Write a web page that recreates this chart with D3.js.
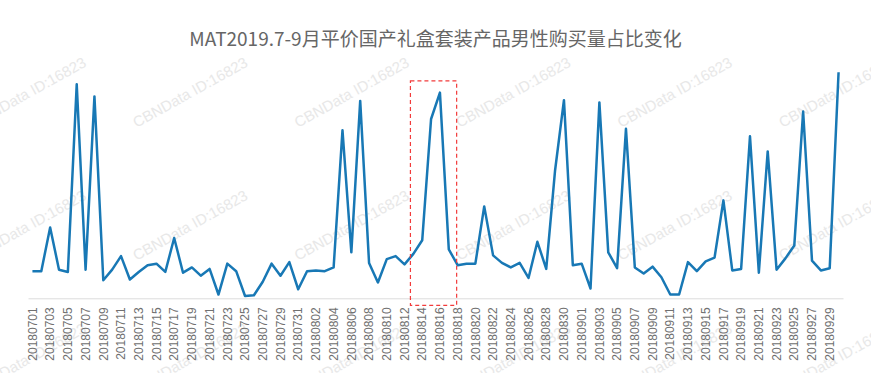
<!DOCTYPE html>
<html>
<head>
<meta charset="utf-8">
<script src="https://cdn.jsdelivr.net/npm/d3@7"></script>
<style>
  body { margin: 0; background: #fff; }
  svg { display: block; }
  .axis-label { font-family: "Liberation Sans", Arial, sans-serif; font-size: 12px; fill: #707070; }
  .title { font-family: "Noto Sans CJK SC", sans-serif; font-size: 19px; fill: #666; }
  .watermark { font-family: "Liberation Sans", Arial, sans-serif; font-size: 15px; fill: #e8e8e8; }
</style>
</head>
<body>
<div id="chart"></div>
<script>
// Data: daily share (%) of male purchase volume, 2018-07-01 .. 2018-09-30
const julyValues = [
  3.6, 3.6, 9.4, 3.8, 3.5, 28.4, 3.8, 26.8, 2.4, 3.8,
  5.6, 2.5, 3.5, 4.4, 4.6, 3.5, 8.0, 3.4, 4.1, 3.0,
  3.9, 0.5, 4.6, 3.6, 0.3, 0.4, 2.2, 4.6, 3.0, 4.8, 1.2,
];
const augustValues = [
  3.6, 3.7, 3.6, 4.1, 22.3, 6.1, 26.2, 4.7, 2.1, 5.2,
  5.6, 4.5, 5.9, 7.7, 23.8, 27.3, 6.5, 4.4, 4.6, 4.6,
  12.2, 5.7, 4.7, 4.1, 4.7, 2.7, 7.5, 3.9, 17.0, 26.3, 4.4,
];
const septemberValues = [
  4.6, 1.3, 26.0, 6.1, 4.0, 22.5, 4.1, 3.3, 4.2, 2.8,
  0.5, 0.5, 4.8, 3.6, 4.9, 5.4, 13.0, 3.7, 3.9, 21.5,
  3.4, 19.5, 3.8, 5.3, 7.0, 24.8, 5.0, 3.7, 4.0, 30.0,
];
const months = [
  {prefix: "201807", values: julyValues},
  {prefix: "201808", values: augustValues},
  {prefix: "201809", values: septemberValues},
];
// highlighted period (red dashed box)
const highlight = ["20180813", "20180818"];
const titleText = "MAT2019.7-9月平价国产礼盒套装产品男性购买量占比变化";
const watermarkText = "CBNData ID:16823";

const width = 871;
const height = 373;
const margin = {top: 72.3, left: 28, right: 28, bottom: 74.7};

// Build data model
const data = [];
months.forEach(function(m) {
  m.values.forEach(function(v, i) {
    const day = String(i + 1).padStart(2, "0");
    data.push({date: m.prefix + day, value: v});
  });
});

const svg = d3.select("#chart")
  .append("svg")
  .attr("width", width)
  .attr("height", height);

// Watermarks (drawn first, under everything)
const wm = svg.append("g");
for (let r = 0; r < 3; r++) {
  for (let c = 0; c < 6; c++) {
    wm.append("text")
      .attr("class", "watermark")
      .attr("transform",
        "translate(" + (-25 + 161.5 * c) + "," + (128 + 133 * r) + ") rotate(-29)")
      .text(watermarkText);
  }
}

// Scales
const xScale = d3.scaleBand()
  .domain(data.map(function(d) {
    return d.date;
  }))
  .range([margin.left, width - margin.right]);

const yScale = d3.scaleLinear()
  .domain([0, 30])
  .range([height - margin.bottom, margin.top]);

const cx = function(date) {
  return xScale(date) + xScale.bandwidth() / 2;
};

// Title
svg.append("text")
  .attr("class", "title")
  .attr("x", width / 2)
  .attr("y", 46)
  .attr("text-anchor", "middle")
  .text(titleText);

// X-Axis: line + every second label, rotated
const xAxis = d3.axisBottom(xScale)
  .tickSize(0)
  .tickPadding(0)
  .tickValues(data.filter(function(d, i) {
    return i % 2 === 0;
  }).map(function(d) {
    return d.date;
  }));

const gx = svg.append("g")
  .attr("transform", "translate(0," + yScale(0) + ")")
  .call(xAxis);

gx.select(".domain")
  .attr("stroke", "#dcdcdc")
  .attr("stroke-width", 1);

gx.selectAll(".tick text")
  .attr("class", "axis-label")
  .attr("text-anchor", "end")
  .attr("dy", "0.35em")
  .attr("transform", "translate(0,9) rotate(-90)")
  .attr("x", 0)
  .attr("y", 0)
  .attr("fill", null);

// Line
const line = d3.line()
  .x(function(d) {
    return cx(d.date);
  })
  .y(function(d) {
    return yScale(d.value);
  });

svg.append("path")
  .datum(data)
  .attr("fill", "none")
  .attr("stroke", "#1878b5")
  .attr("stroke-width", 2.5)
  .attr("stroke-linejoin", "round")
  .attr("d", line);

// Highlight box around the peak
const hlData = data.filter(function(d) {
  return d.date >= highlight[0] && d.date <= highlight[1];
});
const hlLeft = xScale(highlight[0]) + 1.5;
const hlRight = cx(highlight[1]) - 1;
const hlTop = yScale(d3.max(hlData, function(d) {
  return d.value;
})) - 11.7;
const hlBottom = yScale(0) + 7;

svg.append("rect")
  .attr("x", hlLeft)
  .attr("y", hlTop)
  .attr("width", hlRight - hlLeft)
  .attr("height", hlBottom - hlTop)
  .attr("fill", "none")
  .attr("stroke", "#f23b3b")
  .attr("stroke-width", 1.2)
  .attr("stroke-dasharray", "4,3");
</script>
</body>
</html>
